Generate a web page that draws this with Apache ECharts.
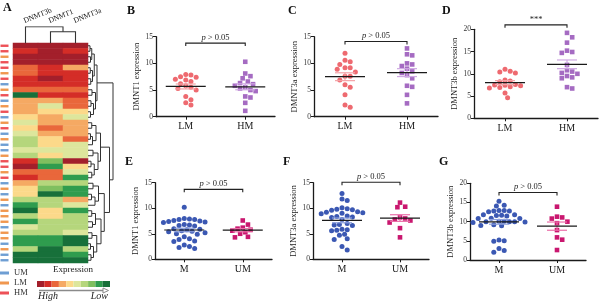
<!DOCTYPE html>
<html>
<head>
<meta charset="utf-8">
<script src="https://cdn.jsdelivr.net/npm/echarts@6.0.0/dist/echarts.min.js"></script>
<style>html,body{margin:0;padding:0;background:#fff}#chart{width:600px;height:307px}</style>
</head>
<body>
<div id="chart"></div>
<script>
// ---------- data ----------
var geneNames = ['DNMT3b', 'DNMT1', 'DNMT3a'];
// heatmap level per sample row: 0 = highest expression (dark red) ... 9 = lowest (dark green)
var heatLevels = [
  [0,0,0],[1,0,1],[0,0,0],[0,0,0],[2,1,3],
  [2,1,1],[1,0,1],[1,1,1],[2,2,2],[9,1,1],
  [3,3,2],[3,5,2],[3,4,4],[4,3,5],[5,3,3],
  [4,2,3],[5,3,3],[6,4,2],[6,4,5],[5,5,5],
  [6,4,5],[1,7,0],[0,8,4],[2,2,5],[1,2,8],
  [3,6,6],[4,7,8],[4,9,8],[6,6,3],[8,6,5],
  [9,4,8],[6,4,6],[8,6,6],[5,6,6],[6,6,5],
  [8,8,9],[8,8,9],[6,9,6],[9,9,8],[9,9,9]
];
var rowGroups = ['HM','HM','LM','HM','HM','LM','HM','UM','LM','HM',
                 'UM','LM','HM','UM','LM','HM','UM','LM','UM','UM',
                 'LM','HM','HM','LM','HM','UM','LM','UM','LM','UM',
                 'LM','LM','LM','UM','LM','LM','UM','LM','UM','UM'];
var groupNames = ['UM', 'LM', 'HM'];
// dendrograms: [height, left, right], leaves are row / column indexes
var rowTree = [10,
  [3.6,
    [2.5, [1.5, [0.8, 0, 1], [1.0, 2, 3]], [1.8, [0.9, 4, 5], [1.1, 6, 7]]],
    [3.0, [1.6, 8, 9], [2.2, [1.2, 10, 11], [1.0, 12, 13]]]],
  [8.6,
    [5.0, [3.2, [1.5, 14, 15], [1.8, [1.0, 16, 17], 18]],
          [4.0, [2.0, 19, 20], [2.5, [1.2, 21, 22], [1.5, 23, 24]]]],
    [6.5, [4.2, [2.0, 25, 26], [2.8, [1.4, 27, 28], 29]],
          [5.2, [3.0, [1.5, 30, 31], [1.8, 32, 33]],
                [3.5, [1.6, 34, 35], [2.2, [1.0, 36, 37], [1.2, 38, 39]]]]]]
];
var colTree = [10, 0, [7, 1, 2]];

var metCats = ['LM', 'HM'];
var msCats = ['M', 'UM'];
var dnmt1LM = [7.9, 7.8, 7.5, 7.4, 7.0, 6.9, 6.6, 6.2, 5.8, 5.5, 5.3, 5.0, 3.8, 3.2, 2.6, 2.2];
var dnmt1HM = [10.3, 8.1, 7.6, 7.2, 6.6, 6.3, 6.1, 5.8, 5.5, 5.3, 5.0, 4.8, 3.8, 3.6, 2.6, 1.1];
var dnmt3aLM = [11.9, 10.6, 10.3, 9.8, 9.2, 9.2, 8.9, 8.4, 7.6, 7.6, 6.9, 6.0, 5.5, 4.1, 2.2, 1.75];
var dnmt3aHM = [12.8, 11.7, 11.5, 10.0, 9.8, 9.5, 9.0, 8.5, 8.2, 7.8, 7.2, 5.8, 5.6, 4.1, 2.5];
var dnmt3bLM = [11.0, 10.6, 10.4, 10.2, 8.6, 8.4, 8.2, 7.6, 7.5, 7.4, 7.3, 7.1, 6.9, 6.8, 5.7, 4.6];
var dnmt3bHM = [19.2, 18.2, 17.0, 15.2, 14.9, 14.7, 12.0, 10.8, 10.5, 10.2, 10.0, 9.5, 9.2, 9.0, 7.0, 6.7];
var dnmt1M = [10.2, 8.0, 7.9, 7.8, 7.8, 7.6, 7.5, 7.4, 7.3, 7.2, 6.8, 6.7, 6.6, 6.5, 6.0, 5.9,
              5.8, 5.6, 5.5, 5.4, 5.2, 5.0, 4.9, 4.4, 4.0, 3.9, 3.6, 3.5, 2.8, 2.5, 2.3, 2.1];
var dnmt1UM = [7.6, 6.8, 6.2, 6.0, 5.8, 5.6, 5.3, 5.0, 4.4, 4.3];
var dnmt3aM = [12.9, 11.8, 11.5, 10.1, 9.9, 9.8, 9.7, 9.6, 9.3, 9.2, 9.1, 9.0, 8.9, 8.5, 8.4, 8.3,
               8.2, 7.8, 7.0, 6.8, 6.7, 6.6, 5.9, 5.8, 5.7, 5.6, 4.9, 4.7, 4.0, 3.9, 2.5, 1.8];
var dnmt3aUM = [11.1, 10.3, 10.2, 8.2, 8.0, 7.8, 7.6, 7.2, 6.1, 4.3];
var dnmt3bM = [15.3, 14.3, 14.1, 12.9, 12.9, 12.8, 12.8, 12.6, 11.8, 11.8, 11.7, 11.6, 11.5, 10.9, 10.8, 10.8,
               10.1, 10.1, 10.0, 10.0, 10.0, 9.9, 9.8, 9.2, 9.0, 8.9, 5.2, 5.0, 4.9, 3.0, 2.5, 2.0];
var dnmt3bUM = [13.9, 11.3, 11.1, 10.8, 10.0, 9.6, 7.8, 5.9, 5.3, 2.6];

// ---------- styles / layout ----------
var SERIF = '"Liberation Serif", "DejaVu Serif", serif';
var levelColors = ['#a31f2b', '#d42d27', '#e9673b', '#f5a963', '#fcd98a',
                   '#dde69c', '#b5d67c', '#7fbf5f', '#2f9c4e', '#17703a'];
var groupColors = {UM: '#4a86c8', LM: '#ec7d23', HM: '#e8262d'};

var panels = [
  {letter: 'B', name: 'DMNT1 expression', cats: metCats, groups: [dnmt1LM, dnmt1HM],
   colors: ['#ee6a70', '#a56bc2'], sem: ['#f4a3a7', '#cfa8e3'], symbols: ['circle', 'rect'],
   left: 156, top: 36.7, width: 119, height: 80, max: 15, bracket: 13.8, note: 'p', gap: 13},
  {letter: 'C', name: 'DMNT3a expression', cats: metCats, groups: [dnmt3aLM, dnmt3aHM],
   colors: ['#ee6a70', '#a56bc2'], sem: ['#f4a3a7', '#cfa8e3'], symbols: ['circle', 'rect'],
   left: 314, top: 36.7, width: 124, height: 80, max: 15, bracket: 14.1, note: 'p', gap: 13},
  {letter: 'D', name: 'DMNT3b expression', cats: metCats, groups: [dnmt3bLM, dnmt3bHM],
   colors: ['#ee6a70', '#a56bc2'], sem: ['#f4a3a7', '#cfa8e3'], symbols: ['circle', 'rect'],
   left: 474, top: 29.3, width: 124, height: 89, max: 20, bracket: 21, note: '***', gap: 13},
  {letter: 'E', name: 'DMNT1 expression', cats: msCats, groups: [dnmt1M, dnmt1UM],
   colors: ['#3b58b3', '#c9176f'], sem: ['#8c9fdc', '#ea6fa8'], symbols: ['circle', 'rect'],
   left: 155, top: 182.7, width: 117, height: 76.6, max: 15, bracket: 13.7, note: 'p', gap: 15},
  {letter: 'F', name: 'DMNT3a expression', cats: msCats, groups: [dnmt3aM, dnmt3aUM],
   colors: ['#3b58b3', '#c9176f'], sem: ['#8c9fdc', '#ea6fa8'], symbols: ['circle', 'rect'],
   left: 313, top: 182.7, width: 116, height: 76.6, max: 15, bracket: 15.1, note: 'p', gap: 15},
  {letter: 'G', name: 'DMNT3b expression', cats: msCats, groups: [dnmt3bM, dnmt3bUM],
   colors: ['#3b58b3', '#c9176f'], sem: ['#8c9fdc', '#ea6fa8'], symbols: ['circle', 'rect'],
   left: 470, top: 183.3, width: 116, height: 76.7, max: 20, bracket: 17.6, note: 'p', gap: 15}
];
var letterPos = {A: [3, 8], B: [127, 11], C: [288, 11], D: [442, 11], E: [125, 162], F: [283, 162], G: [439, 162]};

// ---------- helpers ----------
function dendroSegments(tree, swap) {
  var segs = [];
  function walk(node) {
    if (typeof node === 'number') return {pos: node + 0.5, h: 0};
    var a = walk(node[1]), b = walk(node[2]), h = node[0];
    var pts = [[a.h, a.pos], [h, a.pos], [h, b.pos], [b.h, b.pos]];
    if (swap) pts = pts.map(function (p) { return [p[1], p[0]]; });
    segs.push({coords: pts});
    return {pos: (a.pos + b.pos) / 2, h: h};
  }
  walk(tree);
  return segs;
}

// simple beeswarm: spread points sideways (in pixels) so that they do not overlap
function swarm(values, center, pxX, pxY) {
  var size = 5.2, step = 2.6, placed = [], out = [];
  values.slice().sort(function (a, b) { return b - a; }).forEach(function (v) {
    var y = v * pxY;
    for (var k = 0; k < 60; k++) {
      var off = (k === 0 ? 0 : (k % 2 ? 1 : -1) * Math.ceil(k / 2)) * step;
      var ok = placed.every(function (p) {
        var dx = p[0] - off, dy = p[1] - y;
        return dx * dx + dy * dy >= size * size;
      });
      if (ok) { placed.push([off, y]); out.push([center + off / pxX, v]); break; }
    }
  });
  return out;
}

function meanSem(values) {
  var n = values.length, m = 0, s = 0;
  values.forEach(function (v) { m += v; });
  m /= n;
  values.forEach(function (v) { s += (v - m) * (v - m); });
  return [m, Math.sqrt(s / (n - 1)) / Math.sqrt(n)];
}

function statsRender(semColors) {
  return function (params, api) {
    var cx = api.value(0), m = api.value(1), s = api.value(2);
    var c = api.coord([cx, m]), hi = api.coord([cx, m + s]), lo = api.coord([cx, m - s]);
    var st = {stroke: semColors[params.dataIndex], lineWidth: 1.2};
    return {type: 'group', children: [
      {type: 'line', shape: {x1: c[0] - 10, y1: hi[1], x2: c[0] + 10, y2: hi[1]}, style: st},
      {type: 'line', shape: {x1: c[0] - 10, y1: lo[1], x2: c[0] + 10, y2: lo[1]}, style: st},
      {type: 'line', shape: {x1: c[0], y1: hi[1], x2: c[0], y2: lo[1]}, style: st},
      {type: 'line', shape: {x1: c[0] - 20, y1: c[1], x2: c[0] + 20, y2: c[1]}, style: {stroke: '#1a1a1a', lineWidth: 1.2}}
    ]};
  };
}

function bracketRender(note) {
  return function (params, api) {
    var a = api.coord([api.value(0), api.value(2)]), b = api.coord([api.value(1), api.value(2)]);
    var y = a[1];
    var txt = note === 'p' ? '{i|p} > 0.05' : note;
    return {type: 'group', children: [
      {type: 'polyline', shape: {points: [[a[0], y + 3], [a[0], y], [b[0], y], [b[0], y + 3]]},
       style: {stroke: '#222', lineWidth: 1.1, fill: null}},
      {type: 'text', x: (a[0] + b[0]) / 2, y: y - 1,
       style: {text: txt, font: '8.5px ' + SERIF, fill: '#222', textAlign: 'center', textVerticalAlign: 'bottom',
               rich: {i: {fontStyle: 'italic', fontSize: 8.5, fontFamily: SERIF, fill: '#222'}}}}
    ]};
  };
}

// ---------- option ----------
var rowIdx = heatLevels.map(function (r, i) { return String(i); });
var heatData = [];
heatLevels.forEach(function (row, r) {
  row.forEach(function (lv, c) { heatData.push([c, r, lv]); });
});

var grids = [
  {left: 13, top: 43, width: 75, height: 220},      // heatmap
  {left: 88, top: 43, width: 25, height: 220},      // row dendrogram
  {left: 13, top: 26.7, width: 75, height: 16.6},   // column dendrogram
  {left: 0, top: 43, width: 9, height: 220}         // group bar
];
var xAxes = [
  {gridIndex: 0, type: 'category', data: geneNames, position: 'top',
   axisLine: {show: false}, axisTick: {show: false},
   axisLabel: {rotate: -22, margin: 18, interval: 0, align: 'left', verticalAlign: 'bottom',
               fontFamily: SERIF, fontSize: 7.5, color: '#222'}},
  {gridIndex: 1, type: 'value', min: 0, max: 10, show: false},
  {gridIndex: 2, type: 'value', min: 0, max: 3, show: false},
  {gridIndex: 3, type: 'value', min: 0, max: 1, show: false}
];
var yAxes = [
  {gridIndex: 0, type: 'category', data: rowIdx, inverse: true, show: false},
  {gridIndex: 1, type: 'value', min: 0, max: heatLevels.length, inverse: true, show: false},
  {gridIndex: 2, type: 'value', min: 0, max: 10, show: false},
  {gridIndex: 3, type: 'category', data: rowIdx, inverse: true, show: false}
];
var series = [
  {type: 'heatmap', xAxisIndex: 0, yAxisIndex: 0, data: heatData, silent: true,
   itemStyle: {borderWidth: 0}, emphasis: {disabled: true}},
  {type: 'lines', coordinateSystem: 'cartesian2d', xAxisIndex: 1, yAxisIndex: 1, polyline: true,
   data: dendroSegments(rowTree, false), lineStyle: {color: '#333', width: 1, opacity: 1}, silent: true},
  {type: 'lines', coordinateSystem: 'cartesian2d', xAxisIndex: 2, yAxisIndex: 2, polyline: true,
   data: dendroSegments(colTree, true), lineStyle: {color: '#333', width: 1.1, opacity: 1}, silent: true}
];
groupNames.forEach(function (g) {
  var pts = [];
  rowGroups.forEach(function (rg, i) { if (rg === g) pts.push([0.5, String(i)]); });
  series.push({type: 'scatter', name: g, xAxisIndex: 3, yAxisIndex: 3, data: pts,
    symbol: 'rect', symbolSize: [8, 2.4], itemStyle: {color: groupColors[g]}, silent: true});
});

panels.forEach(function (p, i) {
  grids.push({left: p.left, top: p.top, width: p.width, height: p.height});
  var catX = xAxes.length, valX = catX + 1, yI = yAxes.length;
  xAxes.push({gridIndex: grids.length - 1, type: 'category', data: p.cats,
    axisLine: {show: true, lineStyle: {color: '#1a1a1a', width: 1.3}},
    axisTick: {show: true, alignWithLabel: true, length: 3, lineStyle: {color: '#1a1a1a', width: 1}},
    axisLabel: {margin: 5, fontFamily: SERIF, fontSize: 10, color: '#1a1a1a'}});
  xAxes.push({gridIndex: grids.length - 1, type: 'value', min: 0, max: 2, show: false});
  yAxes.push({gridIndex: grids.length - 1, type: 'value', min: 0, max: p.max, interval: 5,
    name: p.name, nameLocation: 'middle', nameGap: p.gap,
    nameTextStyle: {fontFamily: SERIF, fontSize: 8.5, color: '#1a1a1a'},
    axisLine: {show: true, lineStyle: {color: '#1a1a1a', width: 1.3}},
    axisTick: {show: true, length: 3, lineStyle: {color: '#1a1a1a', width: 1}},
    splitLine: {show: false},
    axisLabel: {margin: 3, fontFamily: SERIF, fontSize: 7.5, color: '#333'}});
  var pxX = p.width / 2, pxY = p.height / p.max;
  var stats = [];
  p.groups.forEach(function (vals, g) {
    series.push({type: 'scatter', xAxisIndex: valX, yAxisIndex: yI,
      data: swarm(vals, g + 0.5, pxX, pxY), symbol: p.symbols[g], symbolSize: g === 0 ? 5 : 4.6,
      itemStyle: {color: p.colors[g], opacity: 1}, silent: true, z: 2});
    var ms = meanSem(vals);
    stats.push([g + 0.5, ms[0], ms[1]]);
  });
  series.push({type: 'custom', xAxisIndex: valX, yAxisIndex: yI, data: stats,
    renderItem: statsRender(p.sem), silent: true, z: 3});
  series.push({type: 'custom', xAxisIndex: valX, yAxisIndex: yI, data: [[0.5, 1.5, p.bracket]],
    renderItem: bracketRender(p.note), silent: true, z: 3, clip: false});
});

var graphics = [];
Object.keys(letterPos).forEach(function (k) {
  graphics.push({type: 'text', x: letterPos[k][0], y: letterPos[k][1],
    style: {text: k, font: 'bold 12px ' + SERIF, fill: '#111', textVerticalAlign: 'middle'}});
});
graphics.push(
  {type: 'text', x: 73, y: 270, style: {text: 'Expression', font: '9px ' + SERIF, fill: '#222', textAlign: 'center', textVerticalAlign: 'middle'}},
  {type: 'line', shape: {x1: 39, y1: 290.5, x2: 104, y2: 290.5}, style: {stroke: '#8a8a8a', lineWidth: 1.4}},
  {type: 'polygon', shape: {points: [[103, 288], [108.5, 290.5], [103, 293]]}, style: {fill: '#fff', stroke: '#8a8a8a', lineWidth: 1}},
  {type: 'text', x: 38, y: 296, style: {text: 'High', font: 'italic 10px ' + SERIF, fill: '#222', textVerticalAlign: 'middle'}},
  {type: 'text', x: 108, y: 296, style: {text: 'Low', font: 'italic 10px ' + SERIF, fill: '#222', textAlign: 'right', textVerticalAlign: 'middle'}}
);

grids.forEach(function (g) { g.outerBoundsMode = 'none'; g.containLabel = false; });

var chart = echarts.init(document.getElementById('chart'), null, {renderer: 'canvas'});
chart.setOption({
  animation: false,
  backgroundColor: '#fff',
  grid: grids,
  xAxis: xAxes,
  yAxis: yAxes,
  visualMap: {
    type: 'piecewise', seriesIndex: 0, orient: 'horizontal', left: 37, top: 281, padding: 0,
    itemWidth: 7.3, itemHeight: 6, itemGap: 0, itemSymbol: 'rect', showLabel: false,
    selectedMode: false, hoverLink: false,
    pieces: levelColors.map(function (c, i) { return {value: i, color: c}; })
  },
  legend: {
    data: groupNames, orient: 'vertical', left: 0, top: 268, padding: 0,
    itemWidth: 9, itemHeight: 3, itemGap: 0, icon: 'rect', selectedMode: false,
    textStyle: {fontFamily: SERIF, fontSize: 8.5, color: '#333', lineHeight: 10}
  },
  graphic: graphics,
  series: series
});
</script>
</body>
</html>
